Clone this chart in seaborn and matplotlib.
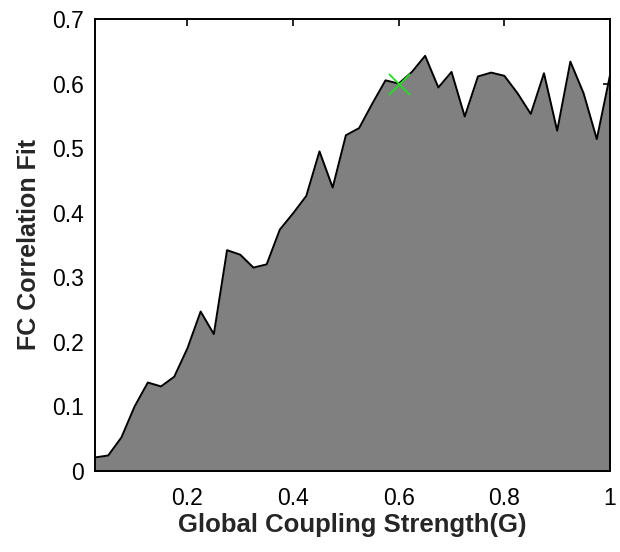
import numpy as np
import pandas as pd
import matplotlib
matplotlib.use("Agg")
import matplotlib.pyplot as plt
import seaborn as sns

# Data
G = [0.025, 0.05, 0.075, 0.1, 0.125, 0.15, 0.175, 0.2, 0.225, 0.25,
     0.275, 0.3, 0.325, 0.35, 0.375, 0.4, 0.425, 0.45, 0.475, 0.5,
     0.525, 0.55, 0.575, 0.6, 0.625, 0.65, 0.675, 0.7, 0.725, 0.75,
     0.775, 0.8, 0.825, 0.85, 0.875, 0.9, 0.925, 0.95, 0.975, 1.0]
fit = [0.021, 0.024, 0.052, 0.100, 0.137, 0.131, 0.146, 0.190, 0.247, 0.212,
       0.342, 0.335, 0.315, 0.320, 0.374, 0.399, 0.426, 0.495, 0.439, 0.520,
       0.531, 0.569, 0.605, 0.600, 0.618, 0.643, 0.594, 0.618, 0.549, 0.611,
       0.617, 0.612, 0.585, 0.553, 0.616, 0.527, 0.634, 0.585, 0.514, 0.613]
best_G = [0.6]
best_fit = [0.6]
x_ticks = [0.2, 0.4, 0.6, 0.8, 1.0]
x_labels = ["0.2", "0.4", "0.6", "0.8", "1"]
y_ticks = [0, 0.1, 0.2, 0.3, 0.4, 0.5, 0.6, 0.7]
y_labels = ["0", "0.1", "0.2", "0.3", "0.4", "0.5", "0.6", "0.7"]

df = pd.DataFrame({"G": G, "fit": fit})

sns.set_style("white")
plt.rcParams['font.family'] = ['Liberation Sans', 'DejaVu Sans']

fig = plt.figure(figsize=(6.2, 5.52), dpi=100)
ax = fig.add_axes([95/620, 1 - 471/552, 515/620, 452/552])

ax.fill_between(df["G"], df["fit"], 0, color="#808080", linewidth=0, zorder=1)
sns.lineplot(data=df, x="G", y="fit", ax=ax, color="black", linewidth=1.4,
             zorder=2, sort=False)
sns.scatterplot(x=best_G, y=best_fit, ax=ax, marker="x", s=230,
                color="#22dd22", linewidth=1.3, zorder=3)

ax.set_xlim(0.025, 1.0)
ax.set_ylim(0, 0.7)
ax.set_xticks(x_ticks)
ax.set_xticklabels(x_labels)
ax.set_yticks(y_ticks)
ax.set_yticklabels(y_labels)
ax.tick_params(direction="in", length=5, width=1.2, top=True, right=True,
               labelsize=16.5, colors="black")
ax.tick_params(axis="x", pad=11.5)
ax.tick_params(axis="y", pad=8)
for s in ax.spines.values():
    s.set_visible(True)
    s.set_color("black")
    s.set_linewidth(1.4)
ax.set_xlabel("Global Coupling Strength(G)", fontsize=18.5, fontweight="bold")
ax.set_ylabel("FC Correlation Fit", fontsize=18, fontweight="bold")
ax.xaxis.set_label_coords(0.5, -0.093)
ax.yaxis.set_label_coords(-0.104, 0.5)

fig.savefig("out.png", dpi=100)
